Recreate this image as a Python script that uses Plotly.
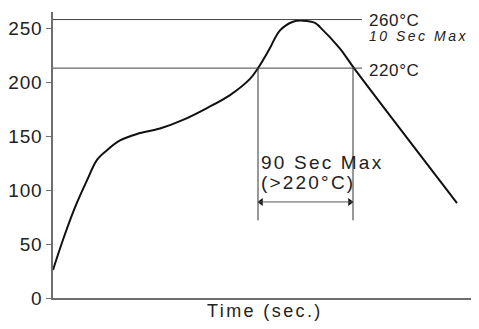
import plotly.graph_objects as go

# reflow profile (time in arbitrary units, temperature in °C as drawn)
time = [0, 10, 22, 34, 44, 54, 67, 84, 107, 130, 154, 177, 197, 205, 216, 227, 240, 250, 262, 267, 287, 301, 404]
temp = [26, 54, 84, 109, 128, 137, 146, 152, 157, 165, 176, 188, 203, 213, 230, 248, 256, 257, 255, 251, 231, 213, 88]

ytick_vals = [0, 50, 100, 150, 200, 250]
ytick_text = ["0", "50", "100", "150", "200", "250"]

peak_level = 258      # drawn position of the 260°C line
liquidus_level = 213  # drawn position of the 220°C line
window_start = 205
window_end = 300
window_bottom = 72
bar_level = 89
line_end = 309
x_max = 424
y_max = 265

DARK = "#222222"
AX = "#6e6e6e"
LINE = "#444444"


def sp(t, ls):
    return f'<span style="letter-spacing:{ls}px">{t}</span>'


fig = go.Figure()

fig.add_trace(go.Scatter(x=time, y=temp, mode="lines",
                         line=dict(color="#111111", width=2, shape="spline", smoothing=1.0),
                         hoverinfo="skip", showlegend=False))

fig.add_shape(type="line", x0=0, x1=line_end, y0=peak_level, y1=peak_level,
              line=dict(color=LINE, width=1))
fig.add_shape(type="line", x0=0, x1=line_end, y0=liquidus_level, y1=liquidus_level,
              line=dict(color=LINE, width=1))
for xv in (window_start, window_end):
    fig.add_shape(type="line", x0=xv, x1=xv, y0=window_bottom, y1=liquidus_level,
                  line=dict(color="#333333", width=1))
fig.add_shape(type="line", x0=window_start, x1=window_end, y0=bar_level, y1=bar_level,
              line=dict(color="#555555", width=1))
fig.add_trace(go.Scatter(x=[window_start + 3, window_end - 3], y=[bar_level, bar_level],
                         mode="markers",
                         marker=dict(symbol=["triangle-left", "triangle-right"], size=7, color="#111111"),
                         hoverinfo="skip", showlegend=False))

ann_x = line_end + 5
fig.add_annotation(x=ann_x, y=257.5, text=sp("260°C", 0.6), showarrow=False, xanchor="left",
                   yanchor="middle", font=dict(size=17, color=DARK))
fig.add_annotation(x=ann_x, y=242.5, text="<i>" + sp("10 Sec Max", 2.5) + "</i>",
                   showarrow=False, xanchor="left", yanchor="middle", font=dict(size=14, color=DARK))
fig.add_annotation(x=ann_x, y=211, text=sp("220°C", 0.6), showarrow=False, xanchor="left",
                   yanchor="middle", font=dict(size=17, color=DARK))
fig.add_annotation(x=window_start + 1, y=126, text=sp("90 Sec Max", 2.2),
                   showarrow=False, xanchor="left", yanchor="middle", font=dict(size=19, color=DARK))
fig.add_annotation(x=window_start + 1, y=107, text=sp("(>220°C)", 2.2),
                   showarrow=False, xanchor="left", yanchor="middle", font=dict(size=19, color=DARK))
fig.add_annotation(x=0.5, y=-0.045, xref="paper", yref="paper", text=sp("Time (sec.)", 2.4),
                   showarrow=False, xanchor="center", yanchor="middle", font=dict(size=18, color=DARK))

fig.update_xaxes(range=[0, x_max], showgrid=False, zeroline=False, showticklabels=False,
                 ticks="", showline=True, linecolor=AX, linewidth=1.5, automargin=False)
fig.update_yaxes(range=[0, y_max], showgrid=False, zeroline=False, tickvals=ytick_vals,
                 ticktext=[sp(t, 0.8) for t in ytick_text],
                 ticks="outside", ticklen=5, tickcolor=AX, showline=True, linecolor=AX, linewidth=1.5,
                 tickfont=dict(size=19, color=DARK), automargin=False)

# the page body adds an 8px offset, so the figure is sized to fill the rest of the window
fig.update_layout(width=471, height=321, margin=dict(l=45, r=2, t=4, b=31),
                  paper_bgcolor="white", plot_bgcolor="white",
                  font=dict(family="Liberation Sans, Arial, sans-serif", color=DARK))

fig.write_html("out.html")
